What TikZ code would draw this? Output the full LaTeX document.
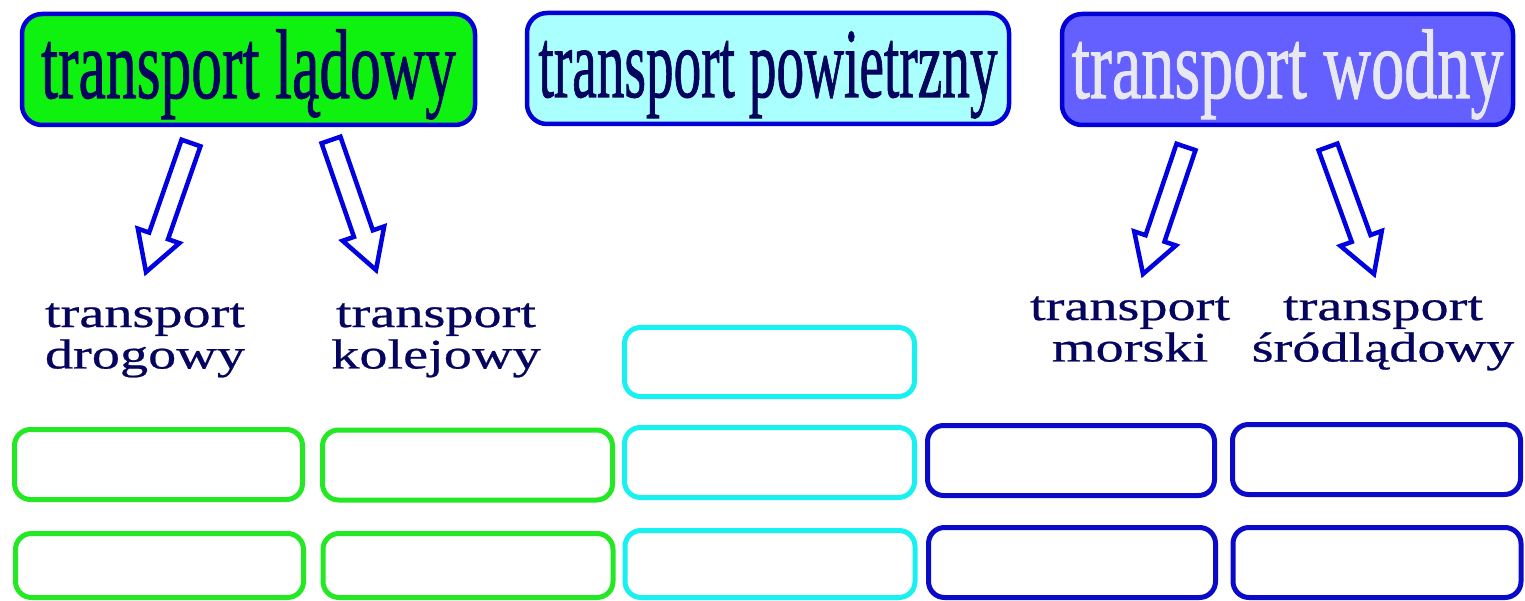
\documentclass[tikz,border=0pt]{standalone}
\usepackage{fontspec}
\usepackage{graphicx}
\setmainfont{Liberation Serif}
\newfontfamily\lblfont[FakeStretch=1.34,FakeBold=0.6]{Liberation Serif}
\newfontfamily\topfont[FakeBold=1.1]{Liberation Serif}
\usetikzlibrary{calc}
\definecolor{txtnavy}{RGB}{5,5,95}
\definecolor{txtlight}{RGB}{232,232,242}
\definecolor{topblue}{RGB}{0,0,215}
\definecolor{arrowblue}{RGB}{0,0,225}
\definecolor{fillgreen}{RGB}{15,242,15}
\definecolor{fillcyan}{RGB}{170,255,255}
\definecolor{fillblue}{RGB}{100,95,255}
\definecolor{edgegreen}{RGB}{35,232,35}
\definecolor{edgecyan}{RGB}{25,240,240}
\definecolor{edgeblue}{RGB}{10,10,200}
\tikzset{
  topbox/.style={draw=topblue, line width=4.5pt, rounded corners=20pt, inner sep=0pt,
    minimum height=111pt, text height=72pt, text depth=15pt},
  hollowarrow/.style={draw=arrowblue, line width=4.5pt, fill=white, line join=miter},
  emptybox/.style={line width=5pt, rounded corners=16pt, inner sep=0pt, minimum height=70pt},
  gbox/.style={emptybox, draw=edgegreen},
  cbox/.style={emptybox, draw=edgecyan},
  bbox/.style={emptybox, draw=edgeblue},
  lbl/.style={anchor=base, inner sep=0pt, text=txtnavy, font=\lblfont\fontsize{42}{41}\selectfont}
}
\newcommand\toptext[2]{\resizebox{#1}{\height}{\topfont\fontsize{99}{99}\selectfont #2}}
\newcommand\blockarr[2]{%
  \path ($(#1)!0.72!(#2)$) coordinate (hb);
  \draw[hollowarrow] ($(#1)!10pt!90:(#2)$) -- ($(hb)!10pt!90:(#2)$) -- ($(hb)!22pt!90:(#2)$)
    -- (#2) -- ($(hb)!22pt!-90:(#2)$) -- ($(hb)!10pt!-90:(#2)$) -- ($(#1)!10pt!-90:(#2)$) -- cycle;}
\begin{document}
\begin{tikzpicture}[x=1pt,y=-1pt]
\useasboundingbox (0,0) rectangle (1525,601);
% top boxes
\node[topbox, fill=fillgreen, text=txtnavy, minimum width=453pt] (land) at (248.5,69.5)
  {\toptext{415pt}{transport lądowy}};
\node[topbox, fill=fillcyan, text=txtnavy, minimum width=482pt] (air) at (768,68.5)
  {\toptext{459pt}{transport powietrzny}};
\node[topbox, fill=fillblue, text=txtlight, minimum width=451pt] (water) at (1287.5,69.5)
  {\toptext{432pt}{transport wodny}};
% arrows
\coordinate (a1s) at (191,143); \coordinate (a1t) at (146,272);
\coordinate (a2s) at (331,140); \coordinate (a2t) at (376,270);
\coordinate (a3s) at (1186,147); \coordinate (a3t) at (1143,274);
\coordinate (a4s) at (1328,147); \coordinate (a4t) at (1374,274);
\blockarr{a1s}{a1t}
\blockarr{a2s}{a2t}
\blockarr{a3s}{a3t}
\blockarr{a4s}{a4t}
% labels
\node[lbl] (road) at (145,327) {\begin{tabular}[t]{@{}c@{}}transport\\drogowy\end{tabular}};
\node[lbl] (rail) at (436,327) {\begin{tabular}[t]{@{}c@{}}transport\\kolejowy\end{tabular}};
\node[lbl] (sea) at (1130,320) {\begin{tabular}[t]{@{}c@{}}transport\\morski\end{tabular}};
\node[lbl] (inland) at (1383,320) {\begin{tabular}[t]{@{}c@{}}transport\\śródlądowy\end{tabular}};
% empty boxes
\node[cbox, minimum width=290pt, minimum height=69pt] (c0) at (769.5,362) {};
\node[gbox, minimum width=288pt] (g11) at (158.5,464.5) {};
\node[gbox, minimum width=290pt] (g21) at (467.5,465) {};
\node[cbox, minimum width=290pt] (c1) at (769.5,462.5) {};
\node[bbox, minimum width=287pt] (b11) at (1071,460.5) {};
\node[bbox, minimum width=288pt] (b21) at (1376.5,459.5) {};
\node[gbox, minimum width=288pt, minimum height=64pt] (g12) at (159.5,565.5) {};
\node[gbox, minimum width=290pt, minimum height=64pt] (g22) at (468,565.5) {};
\node[cbox, minimum width=290pt, minimum height=67pt] (c2) at (770,564) {};
\node[bbox, minimum width=287pt, minimum height=70pt] (b12) at (1072,562.5) {};
\node[bbox, minimum width=288pt, minimum height=70pt] (b22) at (1377,562.5) {};
\end{tikzpicture}
\end{document}
